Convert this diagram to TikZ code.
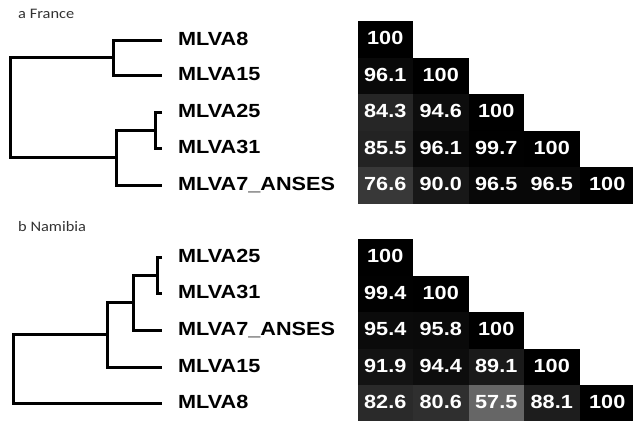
\documentclass[tikz,border=0pt]{standalone}
\usepackage{fontspec}
\usetikzlibrary{positioning}
\newfontfamily\leaffont{Liberation Sans}[FakeStretch=1.14]
\newfontfamily\panelfont{Carlito}[FakeStretch=1.13]

\begin{document}
\begin{tikzpicture}[x=1pt, y=-1pt,
    branch/.style = {line width=3pt, line join=miter},
    leaf/.style = {inner sep=1pt, text height=10.5pt, text depth=0pt,
        font=\leaffont\bfseries\fontsize{19}{21}\selectfont},
    cell/.style = {anchor=north west, minimum width=55.5pt, minimum height=36.5pt,
        inner sep=0pt, outer sep=0pt, text=white, text height=10.5pt, text depth=0pt,
        font=\leaffont\bfseries\fontsize{19}{21}\selectfont},
    panel/.style = {anchor=west, inner sep=0pt, text=black!80,
        font=\panelfont\fontsize{14.5}{17}\selectfont}]
    \useasboundingbox (0,0) rectangle (633,421);

    \node [panel] (fr-title) at (18,14) {a France};
    \node [panel] (nb-title) at (18,227) {b Namibia};

    \coordinate (fr-root) at (10,107.5);
    \coordinate (fr-a) at (113,57.5);
    \coordinate (fr-b) at (116,157.5);
    \coordinate (fr-c) at (155,130);
    \coordinate (fr-t8) at (162,40);
    \coordinate (fr-t15) at (162,75);
    \coordinate (fr-t25) at (162,112);
    \coordinate (fr-t31) at (162,148);
    \coordinate (fr-t7) at (162,185);
    \draw [branch] (fr-a) -| (fr-root) |- (fr-b);
    \draw [branch] (fr-t8) -| (fr-a) |- (fr-t15);
    \draw [branch] (fr-c) -| (fr-b) |- (fr-t7);
    \draw [branch] (fr-t25) -| (fr-c) |- (fr-t31);
    \node [leaf, right=15pt of fr-t8] (fr-8) {MLVA8};
    \node [leaf, right=15pt of fr-t15] (fr-15) {MLVA15};
    \node [leaf, right=15pt of fr-t25] (fr-25) {MLVA25};
    \node [leaf, right=15pt of fr-t31] (fr-31) {MLVA31};
    \node [leaf, right=15pt of fr-t7] (fr-7) {MLVA7\_ANSES};

    \coordinate (nb-root) at (13,369);
    \coordinate (nb-a) at (107,334.5);
    \coordinate (nb-b) at (133,302.5);
    \coordinate (nb-c) at (157,275);
    \coordinate (nb-t25) at (162,257);
    \coordinate (nb-t31) at (162,293);
    \coordinate (nb-t7) at (162,330);
    \coordinate (nb-t15) at (162,367);
    \coordinate (nb-t8) at (162,403);
    \draw [branch] (nb-a) -| (nb-root) |- (nb-t8);
    \draw [branch] (nb-b) -| (nb-a) |- (nb-t15);
    \draw [branch] (nb-c) -| (nb-b) |- (nb-t7);
    \draw [branch] (nb-t25) -| (nb-c) |- (nb-t31);
    \node [leaf, right=15pt of nb-t25] (nb-25) {MLVA25};
    \node [leaf, right=15pt of nb-t31] (nb-31) {MLVA31};
    \node [leaf, right=15pt of nb-t7] (nb-7) {MLVA7\_ANSES};
    \node [leaf, right=15pt of nb-t15] (nb-15) {MLVA15};
    \node [leaf, right=15pt of nb-t8] (nb-8) {MLVA8};

    \foreach \row [count=\r] in {{100},{96.1,100},{84.3,94.6,100},{85.5,96.1,99.7,100},{76.6,90.0,96.5,96.5,100}}
        \foreach \v [count=\c] in \row {
            \pgfmathsetmacro\lite{(100-\v)*0.94}
            \node [cell, fill=white!\lite!black] (fr-\r-\c) at ({357.5+(\c-1)*55.5},{21+(\r-1)*36.5}) {\v};
        }
    \foreach \row [count=\r] in {{100},{99.4,100},{95.4,95.8,100},{91.9,94.4,89.1,100},{82.6,80.6,57.5,88.1,100}}
        \foreach \v [count=\c] in \row {
            \pgfmathsetmacro\lite{(100-\v)*0.94}
            \node [cell, fill=white!\lite!black] (nb-\r-\c) at ({357.5+(\c-1)*55.5},{239+(\r-1)*36.5}) {\v};
        }
\end{tikzpicture}
\end{document}
